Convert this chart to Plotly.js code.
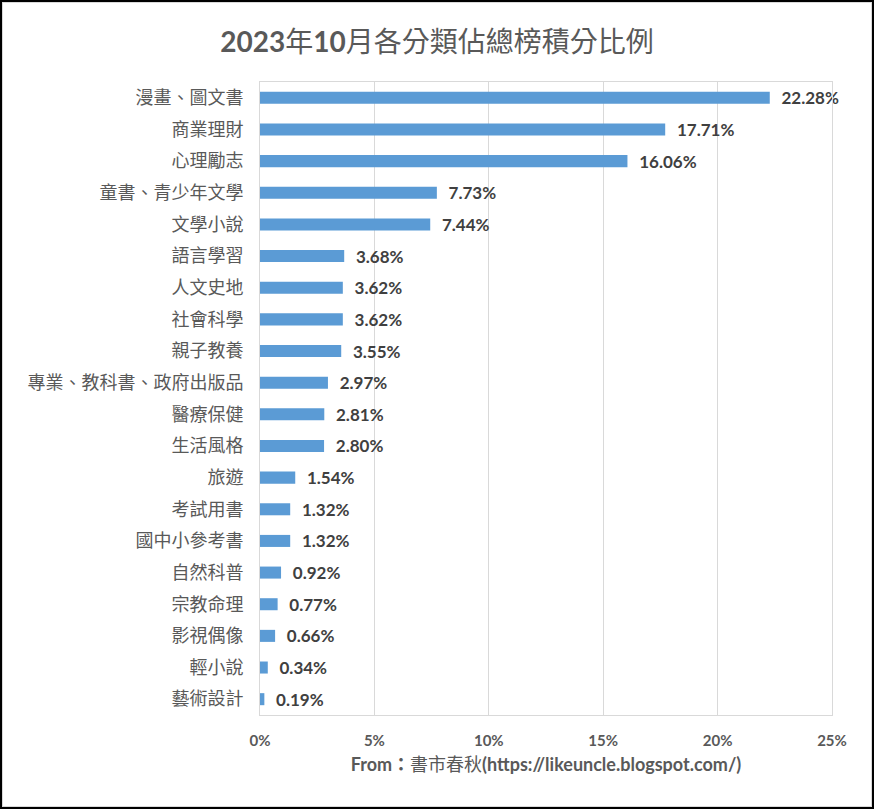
<!DOCTYPE html>
<html>
<head>
<meta charset="utf-8">
<script src="https://cdn.plot.ly/plotly-3.0.1.min.js"></script>
<style>
  html, body { margin: 0; padding: 0; background: #fff; }
  #frame { position: absolute; left: 0; top: 0; width: 874px; height: 809px; box-sizing: border-box; border: 2px solid #000; }
  #inner { position: absolute; left: 0; top: 0; width: 870px; height: 805px; box-sizing: border-box; border: 1px solid #d9d9d9; }
  #chart { position: absolute; left: 0; top: 0; width: 868px; height: 803px; }
</style>
</head>
<body>
<div id="frame"><div id="inner"><div id="chart"></div></div></div>
<script>
const categories = ['漫畫、圖文書','商業理財','心理勵志','童書、青少年文學','文學小說','語言學習','人文史地','社會科學','親子教養','專業、教科書、政府出版品','醫療保健','生活風格','旅遊','考試用書','國中小參考書','自然科普','宗教命理','影視偶像','輕小說','藝術設計'];
const shares = [22.28,17.71,16.06,7.73,7.44,3.68,3.62,3.62,3.55,2.97,2.81,2.80,1.54,1.32,1.32,0.92,0.77,0.66,0.34,0.19];
const xTickVals = [0,5,10,15,20,25];
const xTickText = ['0%','5%','10%','15%','20%','25%'];
const titleText = '<b>2023</b>年<b>10</b>月各分類佔總榜積分比例';
const sourceText = '<b>From：</b>書市春秋<b>(https://likeuncle.blogspot.com/)</b>';

const FONT = 'Lato, "Noto Sans CJK TC", sans-serif';

const trace = {
  type: 'bar',
  orientation: 'h',
  y: categories,
  x: shares,
  text: shares.map(v => '\u00a0\u00a0<b>' + v.toFixed(2) + '%</b>'),
  textposition: 'outside',
  constraintext: 'none',
  cliponaxis: false,
  textfont: {family: FONT, size: 17, color: '#404040'},
  marker: {color: '#5B9BD5'},
  hoverinfo: 'none'
};

const layout = {
  width: 868, height: 803,
  margin: {l: 257, r: 39, t: 79, b: 91},
  paper_bgcolor: '#fff', plot_bgcolor: '#fff',
  showlegend: false,
  bargap: 0.62,
  title: {
    text: titleText,
    font: {family: FONT, size: 28, color: '#595959', weight: 'normal'},
    x: 0.5, xanchor: 'center', xref: 'container',
    y: 0.951, yanchor: 'middle', yref: 'container'
  },
  xaxis: {
    range: [0, 25],
    tickvals: xTickVals, ticktext: xTickText,
    showgrid: true, gridcolor: '#d9d9d9', gridwidth: 1,
    zeroline: false,
    showline: true, linecolor: '#d9d9d9', linewidth: 1, mirror: true,
    ticks: '', ticklabelstandoff: 12,
    tickfont: {family: FONT, size: 15, color: '#595959', weight: 'bold'},
    title: {text: sourceText, font: {family: FONT, size: 18, color: '#595959', weight: 'normal'}, standoff: 10},
    fixedrange: true
  },
  yaxis: {
    type: 'category',
    autorange: 'reversed',
    showgrid: false, zeroline: false,
    showline: true, linecolor: '#d9d9d9', linewidth: 1, mirror: true,
    ticks: '', ticklabelstandoff: 12,
    tickfont: {family: FONT, size: 18, color: '#595959', weight: 'normal'},
    fixedrange: true
  }
};

Plotly.newPlot('chart', [trace], layout, {displayModeBar: false, staticPlot: true});
</script>
</body>
</html>
